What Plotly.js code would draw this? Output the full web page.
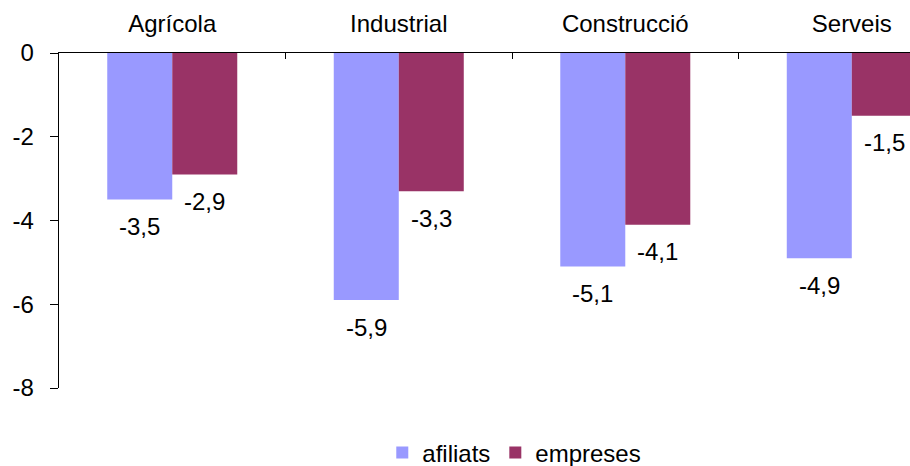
<!DOCTYPE html>
<html>
<head>
<meta charset="utf-8">
<script src="https://cdn.plot.ly/plotly-3.0.1.min.js"></script>
<style>html,body{margin:0;padding:0;background:#fff;}#chart{width:910px;height:466px;}</style>
</head>
<body>
<div id="chart"></div>
<script>
const categories = ['Agrícola', 'Industrial', 'Construcció', 'Serveis'];
const afiliats = [-3.5, -5.9, -5.1, -4.9];
const empreses = [-2.9, -3.3, -4.1, -1.5];
const yTicks = [0, -2, -4, -6, -8];
const seriesNames = ['afiliats', 'empreses'];

const fmt = v => String(v.toFixed(1)).replace('.', ',').replace('\u2212', '-');
const font = {family: 'Liberation Sans, Arial, sans-serif', size: 24, color: '#000'};

const traces = [
  {type: 'bar', name: seriesNames[0], x: categories, y: afiliats,
   marker: {color: '#9999FF', line: {width: 0}}, hoverinfo: 'none'},
  {type: 'bar', name: seriesNames[1], x: categories, y: empreses,
   marker: {color: '#993366', line: {width: 0}}, hoverinfo: 'none'}
];

const annotations = [];
[afiliats, empreses].forEach((arr, si) => {
  arr.forEach((v, i) => {
    annotations.push({
      x: categories[i], y: v, xref: 'x', yref: 'y',
      text: fmt(v), showarrow: false, font: font,
      xanchor: 'center', yanchor: 'middle',
      xshift: si === 0 ? -32.5 : 32.5, yshift: -27
    });
  });
});

const layout = {
  width: 910, height: 466,
  margin: {l: 59, r: 0, t: 53, b: 78, pad: 0, autoexpand: false},
  paper_bgcolor: '#fff', plot_bgcolor: '#fff',
  font: font,
  barmode: 'group', bargap: 0.426, bargroupgap: 0,
  showlegend: true,
  legend: {orientation: 'h', x: 0.535, xanchor: 'center', y: -0.194, yanchor: 'middle',
           font: font, itemwidth: 30, traceorder: 'normal'},
  xaxis: {side: 'top', type: 'category', range: [-0.5, 3.257], automargin: false,
          showline: true, linecolor: '#000', linewidth: 1.3,
          ticks: 'inside', tickson: 'boundaries', ticklen: 6, tickcolor: '#000', tickwidth: 1,
          showgrid: false, zeroline: false, tickfont: font, ticklabelstandoff: 10, fixedrange: true},
  yaxis: {range: [-8, 0], tickvals: yTicks, ticktext: yTicks.map(v => String(v)), automargin: false,
          showline: true, linecolor: '#000', linewidth: 1.3,
          ticks: 'outside', ticklen: 8, tickcolor: '#000', tickwidth: 1,
          showgrid: false, zeroline: false, tickfont: font, ticklabelstandoff: 11, fixedrange: true},
  annotations: annotations
};

Plotly.newPlot('chart', traces, layout, {displayModeBar: false, staticPlot: true});
</script>
</body>
</html>
